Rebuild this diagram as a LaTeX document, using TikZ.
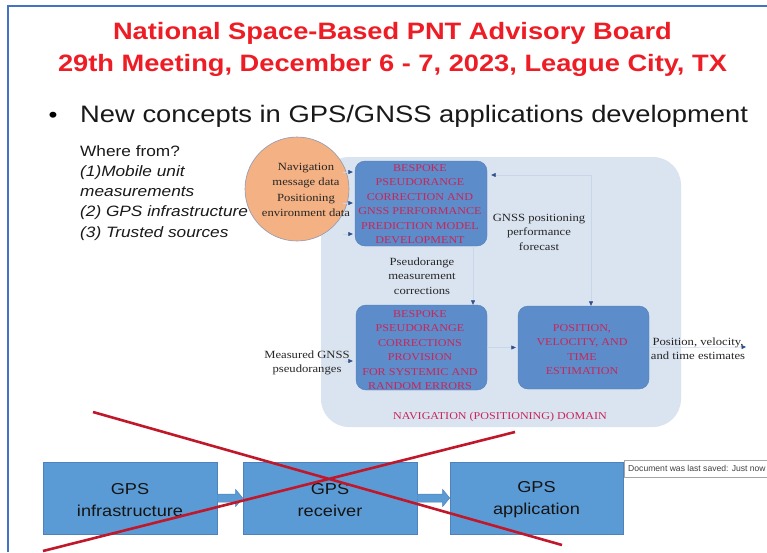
\documentclass[tikz,border=0pt]{standalone}
\usepackage{fontspec}
\usetikzlibrary{arrows.meta,calc}
\newfontfamily\tsans{Liberation Sans}[FakeStretch=1.15]
\newfontfamily\tserif{Liberation Serif}[FakeStretch=1.15]
\newfontfamily\tipfont{Liberation Sans}
\definecolor{titlered}{HTML}{EE1C24}
\definecolor{framec}{HTML}{4472C4}
\definecolor{domfill}{HTML}{DAE4F1}
\definecolor{boxfill}{HTML}{5C8CC9}
\definecolor{boxtext}{HTML}{C8265A}
\definecolor{orangef}{HTML}{F4B183}
\definecolor{oborder}{HTML}{8E9AB4}
\definecolor{arrowc}{HTML}{2E4E8A}
\definecolor{faint}{HTML}{C9D6EA}
\definecolor{gpsfill}{HTML}{5B9BD5}
\definecolor{gpsborder}{HTML}{4F81BD}
\definecolor{crossred}{HTML}{C0182A}
\tikzset{
  innerbox/.style={fill=boxfill, draw=boxfill!90!black, line width=0.4pt, rounded corners=10pt, inner sep=0pt},
  boxlabel/.style={font=\tserif\fontsize{10.5}{14.5}\selectfont, text=boxtext, align=center, inner sep=0pt},
  plainlabel/.style={font=\tserif\fontsize{11}{14.5}\selectfont, text=black!85, align=center, inner sep=0pt},
  arr/.style={draw=faint, line width=0.5pt, -{Triangle[length=4.5pt,width=4pt,fill=arrowc,color=arrowc]}},
  arrboth/.style={draw=faint, line width=0.5pt, {Triangle[length=4.5pt,width=4pt,fill=arrowc,color=arrowc]}-{Triangle[length=4.5pt,width=4pt,fill=arrowc,color=arrowc]}},
  gpsbox/.style={fill=gpsfill, draw=gpsborder, line width=0.6pt, minimum width=174pt, minimum height=72pt, inner sep=0pt},
  gpstext/.style={font=\tsans\fontsize{15.8}{22}\selectfont, text=black!92, align=center, inner sep=0pt},
  blockarrow/.style={fill=gpsfill, draw=gpsborder, line width=0.5pt},
  crossline/.style={draw=crossred, line width=2.6pt},
}
\begin{document}
\begin{tikzpicture}[x=1pt,y=-1pt]
\useasboundingbox (0,0) rectangle (767,552);
\fill[white] (0,0) rectangle (767,552);
% slide frame
\draw[framec, line width=2pt] (8,552) -- (8,6) -- (767,6);
% title
\node[anchor=base, font=\tsans\bfseries\fontsize{23.7}{28}\selectfont, text=titlered, inner sep=0pt] (t1) at (392.5,39) {National Space-Based PNT Advisory Board};
\node[anchor=base, font=\tsans\bfseries\fontsize{23.7}{28}\selectfont, text=titlered, inner sep=0pt] (t2) at (392.5,71) {29th Meeting, December 6 - 7, 2023, League City, TX};
% bullet
\node[anchor=base, font=\tsans\fontsize{22}{26}\selectfont, inner sep=0pt] (bul) at (53,122) {•};
\node[anchor=base west, font=\tsans\fontsize{23.8}{26}\selectfont, text=black!90, inner sep=0pt] (sub) at (80,122) {New concepts in GPS/GNSS applications development};
% where from
\node[anchor=base west, font=\tsans\fontsize{15}{18}\selectfont, text=black!90, inner sep=0pt] (w1) at (80,156) {Where from?};
\node[anchor=base west, font=\tsans\itshape\fontsize{15}{18}\selectfont, text=black!90, inner sep=0pt] (w2) at (80,176) {(1)Mobile unit};
\node[anchor=base west, font=\tsans\itshape\fontsize{15}{18}\selectfont, text=black!90, inner sep=0pt] (w3) at (80,196) {measurements};
\node[anchor=base west, font=\tsans\itshape\fontsize{15}{18}\selectfont, text=black!90, inner sep=0pt] (w4) at (80,216) {(2) GPS infrastructure};
\node[anchor=base west, font=\tsans\itshape\fontsize{15}{18}\selectfont, text=black!90, inner sep=0pt] (w5) at (80,237) {(3) Trusted sources};
% domain
\node[fill=domfill, draw=none, rounded corners=28pt, minimum width=360pt, minimum height=270pt, inner sep=0pt] (dom) at (501,292) {};
% orange circle
\node[circle, fill=orangef, draw=oborder, line width=0.6pt, minimum size=104pt, inner sep=0pt] (oc) at (297,189) {};
% inner boxes
\node[innerbox, minimum width=132pt, minimum height=85pt] (tb) at (421,203.5) {};
\node[innerbox, minimum width=131pt, minimum height=85pt] (lb) at (421.5,347.5) {};
\node[innerbox, minimum width=131pt, minimum height=83pt] (rb) at (583.5,347.5) {};
% box texts
\node[boxlabel] (tbt) at (420,204) {BESPOKE\\PSEUDORANGE\\CORRECTION AND\\GNSS PERFORMANCE\\PREDICTION MODEL\\DEVELOPMENT};
\node[boxlabel] (lbt) at (420,350) {BESPOKE\\PSEUDORANGE\\CORRECTIONS\\PROVISION\\FOR SYSTEMIC AND\\RANDOM ERRORS};
\node[boxlabel] (rbt) at (582,349.5) {POSITION,\\VELOCITY, AND\\TIME\\ESTIMATION};
% circle text
\node[plainlabel, font=\tserif\fontsize{11}{15.3}\selectfont] (oct) at (306,190) {Navigation\\message data\\Positioning\\environment data};
% other labels
\node[plainlabel] (fc) at (539,232) {GNSS positioning\\performance\\forecast};
\node[plainlabel] (pmc) at (422,276) {Pseudorange\\measurement\\corrections};
\node[plainlabel] (mgp) at (307,363) {Measured GNSS\\pseudoranges};
\node[plainlabel] (pvt) at (698,348.5) {Position, velocity,\\and time estimates};
\node[boxlabel] (dlab) at (500,417) {NAVIGATION (POSITIONING) DOMAIN};
% connectors
\coordinate (i1) at (343,172);
\coordinate (i2) at (343,203);
\coordinate (i3) at (343,234);
\draw[arr, shorten >=2pt] (i1) -- (i1 -| tb.west);
\draw[arr, shorten >=2pt] (i2) -- (i2 -| tb.west);
\draw[arr, shorten >=2pt] (i3) -- (i3 -| tb.west);
\coordinate (cx1) at (473,0);
\draw[arr] (cx1 |- tb.south) -- (cx1 |- lb.north);
\coordinate (cx2) at (591,175);
\draw[arrboth, shorten <=4pt] (tb.east |- cx2) -- (cx2) -- (cx2 |- rb.north);
\draw[arr, shorten >=2pt] (lb.east) -- (rb.west);
\coordinate (min) at (345,361);
\draw[arr, shorten >=3pt] (min) -- (min -| lb.west);
\coordinate (pout) at (746,347);
\draw[arr] (rb.east) -- (pout);
% bottom row
\node[gpsbox] (g1) at (130,498) {};
\node[gpsbox] (g2) at (330,498) {};
\node[gpsbox, minimum width=173pt] (g3) at (536.5,498) {};
\node[gpstext] (g1t) at (130,500) {GPS\\infrastructure};
\node[gpstext] (g2t) at (330,500) {GPS\\receiver};
\node[gpstext] (g3t) at (536.5,500) {GPS\\application};
\draw[blockarrow] ($(g1.east)+(0,-4)$) -- ($(g2.west)+(-7,-4)$) -- ($(g2.west)+(-7,-8.5)$) -- (g2.west) -- ($(g2.west)+(-7,8.5)$) -- ($(g2.west)+(-7,4)$) -- ($(g1.east)+(0,4)$);
\draw[blockarrow] ($(g2.east)+(0,-4)$) -- ($(g3.west)+(-7,-4)$) -- ($(g3.west)+(-7,-8.5)$) -- (g3.west) -- ($(g3.west)+(-7,8.5)$) -- ($(g3.west)+(-7,4)$) -- ($(g2.east)+(0,4)$);
% red cross
\coordinate (xa1) at (93,412);
\coordinate (xa2) at (562,545);
\coordinate (xb1) at (43,551);
\coordinate (xb2) at (515,432);
\draw[crossline] (xa1) -- (xa2);
\draw[crossline] (xb1) -- (xb2);
% tooltip
\node[draw=black!35, fill=white, anchor=north west, minimum width=150pt, minimum height=17pt, inner sep=0pt] (tip) at (624,460) {};
\node[anchor=west, font=\tipfont\fontsize{8.6}{10}\selectfont, text=black!75, inner sep=0pt] (tipt) at (628,468.5) {Document was last saved: Just now};
\end{tikzpicture}
\end{document}
